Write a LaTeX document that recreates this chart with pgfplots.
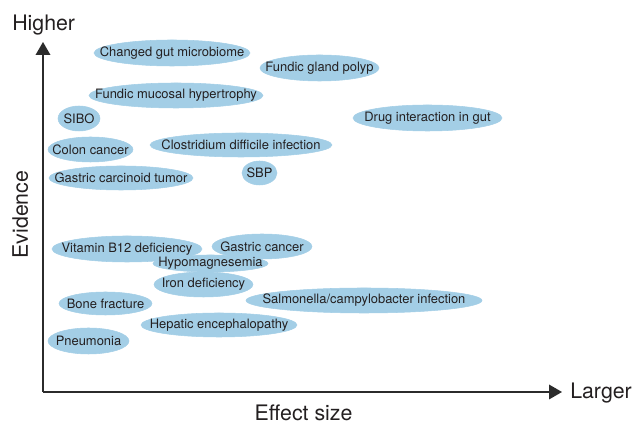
\documentclass[border=0pt]{standalone}
\usepackage{fontspec}
\setmainfont{TeX Gyre Heros}
\usepackage{pgfplots}
\pgfplotsset{compat=1.18}
\usepackage{pgfplotstable}
\usetikzlibrary{arrows.meta}
\definecolor{ellfill}{HTML}{A3CEE6}
\definecolor{txt}{HTML}{231F20}
\definecolor{axcol}{HTML}{2B2B2B}

\pgfplotstableread[col sep=comma]{
label,x,y,w,h
Changed gut microbiome,129,339,156,26
Fundic gland polyp,276.5,324,119,26
Fundic mucosal hypertrophy,133,296.5,174,25
SIBO,36,273.5,42,25
Drug interaction in gut,384.5,274,149,26
Colon cancer,47.5,242.5,85,25
Clostridium difficile infection,198,247,182,24
Gastric carcinoid tumor,78,214,144,24
SBP,216.5,219,35,24
Vitamin B12 deficiency,84,143,150,26
Gastric cancer,219,145.5,100,25
Hypomagnesemia,167.5,128.5,115,17
Iron deficiency,160.5,107.5,99,25
Salmonella/campylobacter infection,321,91.5,236,25
Bone fracture,62.5,88.5,93,23
Hepatic encephalopathy,176,67,156,24
Pneumonia,45.5,51,81,26
}\risks

\begin{document}
\begin{tikzpicture}
\useasboundingbox (-32.25pt,-24pt) rectangle (442.5pt,294pt);
\begin{axis}[
  anchor=origin, at={(0pt,0pt)},
  x=0.75pt, y=0.75pt,
  xmin=0, xmax=519, ymin=0, ymax=350,
  axis lines=left,
  axis line style={draw=axcol, line width=1pt, -{Triangle[length=9.75pt,width=11pt]}},
  every outer x axis line/.append style={-{Triangle[length=9.75pt,width=11pt]}},
  every outer y axis line/.append style={-{Triangle[length=9.75pt,width=11pt]}},
  xtick=\empty, ytick=\empty,
  clip=false,
]
\addplot[scatter, only marks, mark=*, mark size=0pt,
  visualization depends on={\thisrow{w} \as \ew},
  visualization depends on={\thisrow{h} \as \eh},
  scatter/@pre marker code/.code={\fill[ellfill] (0,0) ellipse [x radius=\ew*0.375pt, y radius=\eh*0.375pt];},
  scatter/@post marker code/.code={},
] table[x=x,y=y] {\risks};
\addplot[scatter, only marks, mark=*, mark size=0pt,
  point meta=explicit symbolic,
  scatter/@pre marker code/.code={\node[font=\fontsize{9.7}{11}\selectfont, text=txt, inner sep=0pt] at (0,0) {\pgfplotspointmeta};},
  scatter/@post marker code/.code={},
] table[x=x,y=y,meta=label] {\risks};
\node[anchor=base west, font=\fontsize{16}{19}\selectfont, text=txt, inner sep=0pt] at (axis cs:-31,361) {Higher};
\node[anchor=base west, font=\fontsize{16}{19}\selectfont, text=txt, inner sep=0pt] at (axis cs:527,-7) {Larger};
\node[anchor=base, font=\fontsize{16}{19}\selectfont, text=txt, inner sep=0pt] at (axis cs:260.5,-28.5) {Effect size};
\node[anchor=base, rotate=90, font=\fontsize{16}{19}\selectfont, text=txt, inner sep=0pt] at (axis cs:-15,177.5) {Evidence};
\end{axis}
\end{tikzpicture}
\end{document}
